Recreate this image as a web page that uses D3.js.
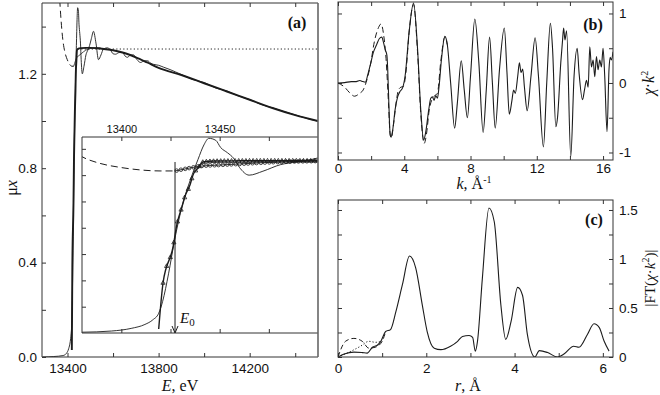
<!DOCTYPE html>
<html><head><meta charset="utf-8">
<script src="https://cdn.jsdelivr.net/npm/d3@7"></script>
<style>
body{margin:0;background:#fff;}
svg{display:block;}
.tick text{font-family:"Liberation Sans",Arial,sans-serif;fill:#111;}
.ttl{font-family:"Liberation Serif","Times New Roman",serif;fill:#111;}
</style></head><body>
<svg id="c" width="660" height="395"></svg>
<script>
// ---------- Panel (a): absorption mu*x vs E ----------
const expE  = [13290,13340,13380,13395,13405,13412,13416,13419,13421,13424,13427,13431,13435,13439,13442,13444.5,13448,13450.5,13454,13457,13460,13465,13472,13481,13489,13497,13505,13514,13525,13536,13547,13558,13575,13589,13600,13611,13627,13642,13653,13664,13677,13690,13705,13721,13737,13752,13765,13778,13800,13822,13850,13900,13950,14000,14050,14100,14150,14200,14250,14300,14350,14400,14450,14500];
const expMu = [0,0.002,0.006,0.015,0.035,0.065,0.10,0.15,0.24,0.45,0.70,0.97,1.16,1.32,1.43,1.48,1.465,1.41,1.37,1.33,1.26,1.20,1.23,1.28,1.30,1.32,1.35,1.38,1.33,1.26,1.28,1.305,1.31,1.30,1.285,1.283,1.29,1.29,1.275,1.27,1.28,1.28,1.26,1.248,1.255,1.255,1.245,1.24,1.236,1.228,1.218,1.197,1.176,1.163,1.14,1.127,1.106,1.091,1.07,1.056,1.04,1.026,1.011,0.999];
// smooth atomic background (thick line, triangles in the inset)
const bkgE  = [13419,13421.2,13426.3,13428.3,13430.8,13432.4,13434.9,13436.4,13439,13441.5,13447.6,13460,13480,13500,13530,13560,13600,13650,13700,13750,13800,13900,14000,14100,14200,14300,14400,14500];
const bkgMu = [0.03,0.38,0.654,0.83,0.958,1.04,1.125,1.20,1.254,1.30,1.307,1.309,1.31,1.31,1.308,1.305,1.30,1.288,1.27,1.248,1.225,1.195,1.16,1.125,1.09,1.055,1.025,1.0];
// mu0 after E0 (circles in the inset)
const circE  = [13427.3,13435,13440,13450,13460,13480,13500,13520,13545];
const circMu = [1.232,1.255,1.268,1.277,1.285,1.30,1.307,1.31,1.31];
// pre-edge extrapolation (dashed)
const dashE  = [13355,13362,13370,13380,13389,13399,13409.5,13419.7,13427.3];
const dashMu = [1.70,1.58,1.45,1.34,1.29,1.26,1.24,1.232,1.232];
// edge-step level (dotted)
const dotE  = [13445,14500];
const dotMu = [1.305,1.305];
const E0 = 13427.3;
const E0top = 1.30;
const aXTicks = [13400,13600,13800,14000,14200,14400];
const aXLabels = [13400,13800,14200];
const aYTicks = [0,0.2,0.4,0.6,0.8,1.0,1.2,1.4];
const aYLabels = [0,0.4,0.8,1.2];
const inXTicks = [13400,13425,13450,13475];
const inXLabels = [13400,13450];
const inYTicks = [0.2,0.4,0.6,0.8,1.0,1.2,1.4];

// ---------- Panel (b): chi*k^2 vs k ----------
const kExp = [0,0.4,0.8,1.1,1.32,1.5,1.65,1.8,1.95,2.15,2.33,2.5,2.64,2.75,2.85,2.95,3.0,3.07,3.14,3.2,3.3,3.45,3.6,3.75,3.9,4.05,4.3,4.56,4.8,5.0,5.17,5.3,5.48,5.6,5.7,5.8,5.9,6.0,6.1,6.25,6.45,6.6,6.8,7.04,7.2,7.44,7.62,7.81,8.0,8.26,8.5,8.76,8.95,9.15,9.32,9.49,9.75,10.04,10.2,10.34,10.5,10.6,10.7,10.85,10.95,11.05,11.15,11.25,11.42,11.65,11.9,12.1,12.4,12.6,12.82,12.95,13.15,13.25,13.45,13.55,13.62,13.7,13.8,14.05,14.25,14.44,14.55,14.76,14.88,15.0,15.1,15.2,15.3,15.4,15.5,15.6,15.7,15.8,15.9,16.0,16.1,16.24,16.36,16.43,16.5,16.6];
const chiExp = [0,0.005,0.02,0.02,0.035,0.02,0.01,0.12,0.26,0.45,0.55,0.64,0.66,0.58,0.48,0.40,0.2,-0.3,-0.72,-0.78,-0.68,-0.38,-0.2,-0.12,-0.07,0.1,0.75,1.15,0.5,-0.4,-0.82,-0.7,-0.38,-0.22,-0.2,-0.25,-0.18,-0.22,-0.05,0.35,0.67,0.55,0.0,-0.65,-0.3,0.32,-0.1,-0.5,0.1,0.92,0.3,-0.71,-0.1,0.66,0.0,-0.65,0.2,0.79,0.15,-0.45,-0.25,-0.1,-0.15,0.1,0.29,0.15,0.2,-0.05,-0.40,0.1,0.65,0.1,-0.92,0.0,0.86,0.5,-0.63,-0.5,0.3,0.6,0.79,0.62,0.75,-1.06,0.1,0.50,0.15,-0.24,-0.1,0.04,-0.06,0.52,0.23,0.33,0.09,0.38,0.19,0.33,0.23,0.50,0.1,-0.70,0.2,0.37,0.33,0.45];
const kFit = [0,0.4,0.7,1.0,1.3,1.52,1.75,1.95,2.2,2.45,2.6,2.75,2.9,3.05,3.15,3.22,3.35,3.5,3.65,3.8,3.95,4.1,4.3,4.56,4.8,5.0,5.2,5.35,5.5,5.65,5.85,6.0,6.2,6.45,6.6];
const chiFit = [0,-0.06,-0.14,-0.19,-0.15,-0.1,0.05,0.25,0.6,0.8,0.85,0.7,0.35,-0.3,-0.75,-0.79,-0.6,-0.3,-0.1,-0.06,-0.05,0.15,0.75,1.13,0.45,-0.45,-0.87,-0.72,-0.4,-0.25,-0.18,-0.15,0.3,0.66,0.55];
const bXTicks = [0,2,4,6,8,10,12,14,16];
const bXLabels = [0,4,8,12,16];
const bYTicks = [-1,-0.5,0,0.5,1];
const bYLabels = [-1,0,1];

// ---------- Panel (c): |FT(chi*k^2)| vs r ----------
const rFT = [0,0.14,0.36,0.55,0.66,0.78,0.89,0.97,1.08,1.19,1.31,1.46,1.62,1.76,1.91,2.02,2.18,2.33,2.55,2.71,2.82,2.97,3.05,3.11,3.16,3.27,3.42,3.54,3.69,3.80,3.92,4.07,4.18,4.29,4.46,4.56,4.75,4.97,5.12,5.34,5.46,5.65,5.8,5.92,6.03,6.14];
const ftExp = [0,0.03,0.05,0.045,0.04,0.1,0.12,0.16,0.26,0.28,0.46,0.74,1.03,0.91,0.53,0.26,0.09,0.075,0.11,0.16,0.21,0.22,0.20,0.06,0.16,0.8,1.52,1.38,0.53,0.18,0.36,0.71,0.63,0.23,0.0,0.065,0.045,0.0,0.03,0.11,0.1,0.23,0.34,0.3,0.16,0.06];
const rDash = [0,0.17,0.36,0.55,0.7,0.85,1.0,1.08];
const ftDash = [0,0.16,0.19,0.16,0.09,0.1,0.16,0.26];
const rDot = [0,0.3,0.51,0.7,0.85,1.0];
const ftDot = [0,0.06,0.11,0.16,0.15,0.16];
const cXTicks = [0,1,2,3,4,5,6];
const cXLabels = [0,2,4,6];
const cYTicks = [0,0.25,0.5,0.75,1,1.25,1.5];
const cYLabels = [0,0.5,1,1.5];

// ================= drawing =================
const svg = d3.select("#c");
const INK = "#1c1c1c", FR = "#333";
const zip = (a,b) => a.map((v,i)=>[v,b[i]]);
let clipN = 0;
function clip(x0,y0,x1,y1){
  const id = "cp"+(clipN++);
  svg.append("clipPath").attr("id",id).append("rect").attr("x",x0).attr("y",y0).attr("width",x1-x0).attr("height",y1-y0);
  return "url(#"+id+")";
}
function fmtNum(d){ return (d<0?"-":"")+String(Math.abs(d)); }
function addAxis(g, axis, fs){
  const a = g.call(axis);
  a.select(".domain").remove();
  a.selectAll(".tick line").attr("stroke",FR).attr("stroke-width",1);
  a.selectAll(".tick text").style("font-size",fs+"px");
  return a;
}
function line(x,y,curve){ return d3.line().x(d=>x(d[0])).y(d=>y(d[1])).curve(curve||d3.curveMonotoneX); }

// ---- Panel (a)
const aL=42,aR=318,aT=3,aB=357;
const xA = d3.scaleLinear().domain([13288,14500]).range([aL,aR]);
const yA = d3.scaleLinear().domain([0,1.5]).range([aB,aT]);
const gA = svg.append("g");
addAxis(gA.append("g").attr("transform",`translate(0,${aB})`),
  d3.axisBottom(xA).tickValues(aXTicks).tickSize(-4).tickPadding(6).tickFormat(d=>aXLabels.includes(d)?d:""),13.5);
addAxis(gA.append("g").attr("transform",`translate(0,${aT})`),
  d3.axisTop(xA).tickValues(aXTicks).tickSize(-4).tickFormat(""),13);
addAxis(gA.append("g").attr("transform",`translate(${aL},0)`),
  d3.axisLeft(yA).tickValues(aYTicks).tickSize(-4).tickPadding(5).tickFormat(d=>aYLabels.some(v=>Math.abs(v-d)<1e-9)?d3.format(".1f")(d):""),13.5);
const pA = gA.append("g").attr("clip-path",clip(aL,aT,aR,aB));
pA.append("path").attr("d",line(xA,yA,d3.curveLinear)(zip(dotE,dotMu))).attr("fill","none").attr("stroke",INK).attr("stroke-width",1).attr("stroke-dasharray","1.2,2.3");
pA.append("path").attr("d",line(xA,yA)(zip(dashE,dashMu))).attr("fill","none").attr("stroke",INK).attr("stroke-width",1).attr("stroke-dasharray","7,4");
pA.append("path").attr("d",line(xA,yA)(zip(circE,circMu))).attr("fill","none").attr("stroke",INK).attr("stroke-width",0.8);
pA.append("path").attr("d",line(xA,yA)(zip(bkgE,bkgMu))).attr("fill","none").attr("stroke",INK).attr("stroke-width",1.9);
pA.append("path").attr("d",line(xA,yA)(zip(expE,expMu))).attr("fill","none").attr("stroke",INK).attr("stroke-width",0.9);

// inset
const iL=82,iR=318,iT=137,iB=333;
const xI = d3.scaleLinear().domain([13380,13500]).range([iL,iR]);
const yI = d3.scaleLinear().domain([0,1.49]).range([iB,iT]);
const gI = svg.append("g");
gI.append("rect").attr("x",iL).attr("y",iT).attr("width",iR-iL).attr("height",iB-iT).attr("fill","#fff");
addAxis(gI.append("g").attr("transform",`translate(0,${iT})`),
  d3.axisTop(xI).tickValues(inXTicks).tickSize(-4).tickPadding(4).tickFormat(d=>inXLabels.includes(d)?d:""),11);
addAxis(gI.append("g").attr("transform",`translate(0,${iB})`),
  d3.axisBottom(xI).tickValues(inXTicks).tickSize(-4).tickFormat(""),11);
addAxis(gI.append("g").attr("transform",`translate(${iL},0)`),
  d3.axisLeft(yI).tickValues(inYTicks).tickSize(-4).tickFormat(""),11);
const pI = gI.append("g").attr("clip-path",clip(iL,iT,iR,iB));
pI.append("path").attr("d",line(xI,yI)(zip(dashE,dashMu))).attr("fill","none").attr("stroke",INK).attr("stroke-width",1).attr("stroke-dasharray","7,4");
const circPath = pI.append("path").attr("d",line(xI,yI)(zip(circE,circMu))).attr("fill","none").attr("stroke",INK).attr("stroke-width",0.9);
const bkgIn = bkgE.map((e,i)=>[e,bkgMu[i]]).filter(d=>d[0]<=13530);
const trPath = pI.append("path").attr("d",line(xI,yI)(bkgIn)).attr("fill","none").attr("stroke",INK).attr("stroke-width",1.4);
const expIn = expE.map((e,i)=>[e,expMu[i]]).filter(d=>d[0]<=13520);
pI.append("path").attr("d",line(xI,yI)(expIn)).attr("fill","none").attr("stroke",INK).attr("stroke-width",0.9);
// markers placed on the drawn paths at regular horizontal steps
function markersX(pathSel, x0, x1, step, draw){
  const node = pathSel.node(), L = node.getTotalLength();
  const samples = [];
  for(let s=0; s<=L; s+=0.4) samples.push(node.getPointAtLength(s));
  let j = 0;
  for(let x=x0; x<=x1; x+=step){
    while(j<samples.length-1 && samples[j].x < x) j++;
    draw(samples[j]);
  }
}
markersX(circPath, xI(E0)+1.5, iR, 4.2, p=>pI.append("circle").attr("cx",p.x).attr("cy",p.y).attr("r",1.8).attr("fill","none").attr("stroke",INK).attr("stroke-width",0.8));
markersX(trPath, xI(13421.2), iR, 3.6, p=>pI.append("path").attr("transform",`translate(${p.x},${p.y})`).attr("d","M0,-2.3L2.1,1.4L-2.1,1.4Z").attr("fill","none").attr("stroke",INK).attr("stroke-width",0.8));
// E0 arrow
const ex = xI(E0);
gI.append("line").attr("x1",ex).attr("x2",ex).attr("y1",yI(E0top)).attr("y2",yI(0)).attr("stroke",INK).attr("stroke-width",1);
gI.append("path").attr("d",`M${ex-3},${yI(0)-7}L${ex},${yI(0)}L${ex+3},${yI(0)-7}`).attr("fill","none").attr("stroke",INK).attr("stroke-width",1);
const e0t = gI.append("text").attr("class","ttl").attr("x",ex+5).attr("y",yI(0)-10).style("font-size","15px");
e0t.append("tspan").style("font-style","italic").text("E");
e0t.append("tspan").attr("dy",3).style("font-size","11px").text("0");
gI.append("path").attr("d",`M${iR},${iT}H${iL}V${iB}H${iR}`).attr("fill","none").attr("stroke",FR).attr("stroke-width",1);
// frame (a)
gA.append("path").attr("d",`M${aR},${aT}H${aL}V${aB}H${aR}`).attr("fill","none").attr("stroke",FR).attr("stroke-width",1);
svg.append("line").attr("x1",aR).attr("x2",aR).attr("y1",aT).attr("y2",aB).attr("stroke","#666").attr("stroke-width",1.6);
svg.append("text").attr("class","ttl").attr("x",297).attr("y",28).attr("text-anchor","middle").style("font-size","16px").style("font-weight","bold").text("(a)");
const tE = svg.append("text").attr("class","ttl").attr("x",180).attr("y",391).attr("text-anchor","middle").style("font-size","16px");
tE.append("tspan").style("font-style","italic").text("E");
tE.append("tspan").text(", eV");
const tMu = svg.append("text").attr("class","ttl").attr("transform","translate(17,188) rotate(-90)").attr("text-anchor","middle").style("font-size","16px");
tMu.append("tspan").text("μ");
tMu.append("tspan").style("font-style","italic").text("x");

// ---- Panel (b)
const bL=338,bR=613,bT=2,bB=160;
const xB = d3.scaleLinear().domain([0,16.6]).range([bL,bR]);
const yB = d3.scaleLinear().domain([-1.108,1.165]).range([bB,bT]);
const gB = svg.append("g");
addAxis(gB.append("g").attr("transform",`translate(0,${bB})`),
  d3.axisBottom(xB).tickValues(bXTicks).tickSize(-4).tickPadding(3).tickFormat(d=>bXLabels.includes(d)?d:""),13.5);
addAxis(gB.append("g").attr("transform",`translate(0,${bT})`),
  d3.axisTop(xB).tickValues(bXTicks).tickSize(-4).tickFormat(""),13);
addAxis(gB.append("g").attr("transform",`translate(${bL},0)`),
  d3.axisLeft(yB).tickValues(bYTicks).tickSize(-4).tickFormat(""),13);
addAxis(gB.append("g").attr("transform",`translate(${bR},0)`),
  d3.axisRight(yB).tickValues(bYTicks).tickSize(-4).tickPadding(6).tickFormat(d=>bYLabels.includes(d)?fmtNum(d):""),13.5);
const pB = gB.append("g").attr("clip-path",clip(bL,bT,bR,bB));
pB.append("path").attr("d",line(xB,yB)(zip(kFit,chiFit))).attr("fill","none").attr("stroke",INK).attr("stroke-width",1).attr("stroke-dasharray","6,3.5");
pB.append("path").attr("d",line(xB,yB)(zip(kExp,chiExp))).attr("fill","none").attr("stroke",INK).attr("stroke-width",1.1);
gB.append("rect").attr("x",bL).attr("y",bT).attr("width",bR-bL).attr("height",bB-bT).attr("fill","none").attr("stroke",FR).attr("stroke-width",1);
svg.append("text").attr("class","ttl").attr("x",593).attr("y",30).attr("text-anchor","middle").style("font-size","16px").style("font-weight","bold").text("(b)");
const tK = svg.append("text").attr("class","ttl").attr("x",474).attr("y",189).attr("text-anchor","middle").style("font-size","16px");
tK.append("tspan").style("font-style","italic").text("k");
tK.append("tspan").text(", Å");
tK.append("tspan").attr("dy",-6).style("font-size","10px").text("-1");
const tChi = svg.append("text").attr("class","ttl").attr("transform","translate(654,83) rotate(-90)").attr("text-anchor","middle").style("font-size","16px");
tChi.append("tspan").style("font-style","italic").text("χ");
tChi.append("tspan").text("·");
tChi.append("tspan").style("font-style","italic").text("k");
tChi.append("tspan").attr("dy",-6).style("font-size","10px").text("2");

// ---- Panel (c)
const cL=338,cR=613,cT=200,cB=357;
const xC = d3.scaleLinear().domain([0,6.23]).range([cL,cR]);
const yC = d3.scaleLinear().domain([0,1.602]).range([cB,cT]);
const gC = svg.append("g");
addAxis(gC.append("g").attr("transform",`translate(0,${cB})`),
  d3.axisBottom(xC).tickValues(cXTicks).tickSize(-4).tickPadding(6).tickFormat(d=>cXLabels.includes(d)?d:""),13.5);
addAxis(gC.append("g").attr("transform",`translate(0,${cT})`),
  d3.axisTop(xC).tickValues(cXTicks).tickSize(-4).tickFormat(""),13);
addAxis(gC.append("g").attr("transform",`translate(${cL},0)`),
  d3.axisLeft(yC).tickValues(cYTicks).tickSize(-4).tickFormat(""),13);
addAxis(gC.append("g").attr("transform",`translate(${cR},0)`),
  d3.axisRight(yC).tickValues(cYTicks).tickSize(-4).tickPadding(6).tickFormat(d=>cYLabels.includes(d)?String(d):""),13.5);
const pC = gC.append("g").attr("clip-path",clip(cL,cT,cR,cB));
pC.append("path").attr("d",line(xC,yC)(zip(rDash,ftDash))).attr("fill","none").attr("stroke",INK).attr("stroke-width",1).attr("stroke-dasharray","5,3");
pC.append("path").attr("d",line(xC,yC)(zip(rDot,ftDot))).attr("fill","none").attr("stroke",INK).attr("stroke-width",1).attr("stroke-dasharray","1.2,2");
pC.append("path").attr("d",line(xC,yC)(zip(rFT,ftExp))).attr("fill","none").attr("stroke",INK).attr("stroke-width",1.1);
gC.append("rect").attr("x",cL).attr("y",cT).attr("width",cR-cL).attr("height",cB-cT).attr("fill","none").attr("stroke",FR).attr("stroke-width",1);
svg.append("text").attr("class","ttl").attr("x",594).attr("y",225).attr("text-anchor","middle").style("font-size","16px").style("font-weight","bold").text("(c)");
const tR = svg.append("text").attr("class","ttl").attr("x",468).attr("y",391).attr("text-anchor","middle").style("font-size","16px");
tR.append("tspan").style("font-style","italic").text("r");
tR.append("tspan").text(", Å");
const tFT = svg.append("text").attr("class","ttl").attr("transform","translate(655,278) rotate(-90)").attr("text-anchor","middle").style("font-size","15px");
tFT.append("tspan").text("|FT(");
tFT.append("tspan").style("font-style","italic").text("χ");
tFT.append("tspan").text("·");
tFT.append("tspan").style("font-style","italic").text("k");
tFT.append("tspan").attr("dy",-6).style("font-size","10px").text("2");
tFT.append("tspan").attr("dy",6).text(")|");
</script>
</body></html>
